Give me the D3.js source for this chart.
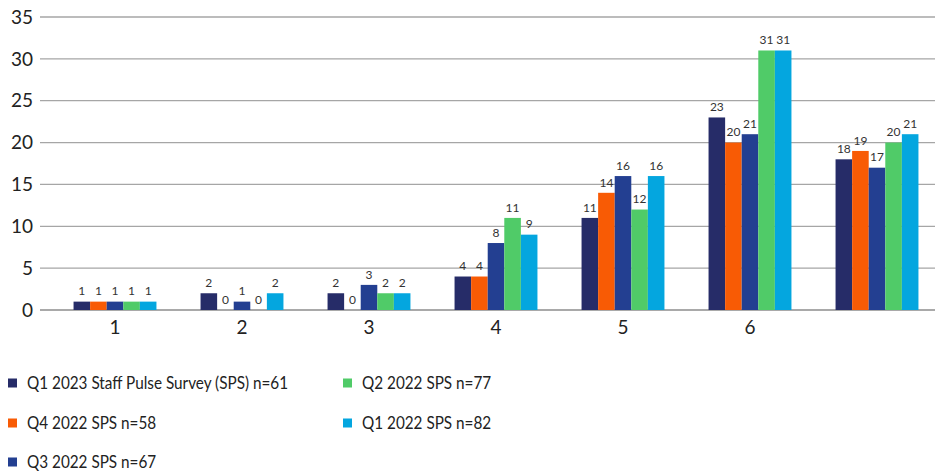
<!DOCTYPE html>
<html>
<head>
<meta charset="utf-8">
<script src="https://cdn.jsdelivr.net/npm/d3@7"></script>
<style>
  html, body { margin: 0; padding: 0; background: #fff; }
  svg { display: block; font-family: Lato, "Open Sans", sans-serif; }
</style>
</head>
<body>
<svg id="chart" width="935" height="473"></svg>
<script>
// Response scores by survey wave
const categories = ["1", "2", "3", "4", "5", "6", ""];
const seriesNames = [
  "Q1 2023 Staff Pulse Survey (SPS) n=61",
  "Q4 2022 SPS n=58",
  "Q3 2022 SPS n=67",
  "Q2 2022 SPS n=77",
  "Q1 2022 SPS n=82"
];
const seriesColors = ["#262c68", "#f85b05", "#233f91", "#50cb68", "#04a6df"];
const q1_2023 = [1, 2, 2, 4, 11, 23, 18];
const q4_2022 = [1, 0, 0, 4, 14, 20, 19];
const q3_2022 = [1, 1, 3, 8, 16, 21, 17];
const q2_2022 = [1, 0, 2, 11, 12, 31, 20];
const q1_2022 = [1, 2, 2, 9, 16, 31, 21];
const seriesValues = [q1_2023, q4_2022, q3_2022, q2_2022, q1_2022];
const yTicks = [0, 5, 10, 15, 20, 25, 30, 35];

const svg = d3.select("#chart");
const gridLeft = 40, gridRight = 935;

const x = d3.scaleBand().domain(d3.range(categories.length)).range([51.5, 940.5]).paddingInner(0).paddingOuter(0);
const inner = d3.scaleBand().domain(d3.range(seriesNames.length)).range([0, x.bandwidth()]).paddingOuter(1.33).paddingInner(0);
const y = d3.scaleLinear().domain([0, 35]).range([310, 17]);

// horizontal gridlines
svg.append("g").selectAll("line").data(yTicks).join("line")
  .attr("x1", gridLeft).attr("x2", gridRight)
  .attr("y1", d => y(d)).attr("y2", d => y(d))
  .attr("stroke", d => d === 0 ? "#8c8c8c" : "#a6a6a6")
  .attr("stroke-width", 1.3);

// y tick labels
svg.append("g").selectAll("text").data(yTicks).join("text")
  .attr("x", 33).attr("y", d => y(d)).attr("dy", "0.35em")
  .attr("text-anchor", "end").attr("font-size", 19).attr("fill", "#222")
  .text(d => d);

// x category labels
svg.append("g").selectAll("text").data(categories).join("text")
  .attr("x", (d, i) => x(i) + x.bandwidth() / 2).attr("y", 327).attr("dy", "0.35em")
  .attr("text-anchor", "middle").attr("font-size", 19).attr("fill", "#222")
  .text(d => d);

// bars and value labels
const groups = svg.append("g").selectAll("g").data(categories).join("g")
  .attr("transform", (d, i) => `translate(${x(i)},0)`);

seriesValues.forEach((vals, s) => {
  groups.append("rect")
    .attr("x", inner(s)).attr("width", inner.bandwidth())
    .attr("y", (d, i) => y(vals[i])).attr("height", (d, i) => y(0) - y(vals[i]))
    .attr("fill", seriesColors[s]);
  groups.append("text")
    .attr("x", inner(s) + inner.bandwidth() / 2)
    .attr("y", (d, i) => y(vals[i]) - 10.5).attr("dy", "0.35em")
    .attr("text-anchor", "middle").attr("font-size", 12).attr("fill", "#333")
    .text((d, i) => vals[i]);
});

// legend (labels set in a condensed width)
const legendPos = [
  { x: 8, y: 383 }, { x: 8, y: 423 }, { x: 8, y: 462 },
  { x: 343, y: 383 }, { x: 343, y: 423 }
];
const legend = svg.append("g").selectAll("g").data(seriesNames).join("g")
  .attr("transform", (d, i) => `translate(${legendPos[i].x},${legendPos[i].y})`);
legend.append("rect").attr("x", 0).attr("y", -4.5).attr("width", 9).attr("height", 9)
  .attr("fill", (d, i) => seriesColors[i]);
legend.append("text").attr("transform", "translate(19,0) scale(0.85,1)").attr("dy", "0.35em")
  .attr("font-size", 18).attr("fill", "#222").text(d => d);
</script>
</body>
</html>
